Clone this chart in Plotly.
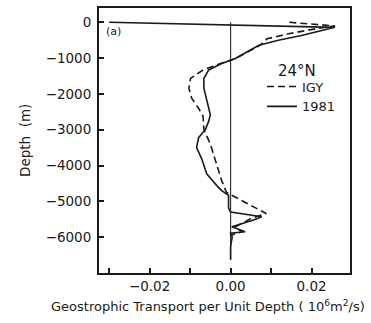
import plotly.graph_objects as go

# 1981 profile (depth m, transport 10^6 m^2/s per m)
depth_1981 = [0, -140, -370, -500, -640, -700, -740, -830, -1010, -1150, -1330, -1570,
              -1840, -2200, -2580, -2760, -2990, -3220, -3500, -3820, -4230, -4560,
              -4700, -4830, -4970, -5190, -5300, -5430, -5520, -5710, -5850, -5890,
              -6000, -6260, -6630]
val_1981 = [-0.0300, 0.0258, 0.0175, 0.0118, 0.0070, 0.0060, 0.0052, 0.0040, 0.0012, -0.0022,
            -0.0054, -0.0066, -0.0066, -0.0059, -0.0050, -0.0054, -0.0062, -0.0079, -0.0084,
            -0.0071, -0.0059, -0.0034, -0.0022, -0.0005, -0.0005, -0.0005, 0.0000, 0.0077,
            0.0057, 0.0003, 0.0036, 0.0000, 0.0004, 0.0000, 0.0000]

# IGY profile
depth_igy = [0, -100, -180, -320, -460, -640, -830, -1010, -1150, -1330, -1570, -1840,
             -2120, -2400, -2620, -2990, -3400, -3680, -4140, -4420, -4750, -4880, -5060,
             -5340, -5470, -5710, -5850, -5940]
val_igy = [0.0145, 0.0258, 0.0210, 0.0143, 0.0090, 0.0073, 0.0042, 0.0012, -0.0025, -0.0068,
           -0.0099, -0.0103, -0.0096, -0.0079, -0.0068, -0.0066, -0.0050, -0.0042, -0.0030,
           -0.0022, -0.0010, 0.0012, 0.0044, 0.0088, 0.0052, 0.0012, 0.0028, 0.0003]

# zero reference line
zero_x = [0.0, 0.0]
zero_depth = [0, -6630]

x_tickvals = [-0.03, -0.02, -0.01, 0.0, 0.01, 0.02]
x_ticktext = ["", "\u22120.02", "", "0.00", "", "0.02"]
y_tickvals = [0, -1000, -2000, -3000, -4000, -5000, -6000]
y_ticktext = ["0", "\u22121000", "\u22122000", "\u22123000", "\u22124000", "\u22125000", "\u22126000"]

FONT = "DejaVu Sans"
INK = "#1a1a1a"

W, H = 371, 323
ML, MR, MT, MB = 99, 21, 6, 50
PW, PH = W - ML - MR, H - MT - MB


def px_x(p):
    return (p - ML) / PW


def px_y(p):
    return 1 - (p - MT) / PH


fig = go.Figure()
fig.add_trace(go.Scatter(x=zero_x, y=zero_depth, mode="lines",
                         line=dict(color="#333333", width=1.2), showlegend=False,
                         hoverinfo="skip"))
fig.add_trace(go.Scatter(x=val_igy, y=depth_igy, mode="lines", name="IGY",
                         line=dict(color=INK, width=1.6, dash="7px,4px")))
fig.add_trace(go.Scatter(x=val_1981, y=depth_1981, mode="lines", name="1981",
                         line=dict(color=INK, width=1.6)))

fig.update_layout(
    width=W, height=H,
    margin=dict(l=ML, r=MR, t=MT, b=MB),
    paper_bgcolor="white", plot_bgcolor="white",
    font=dict(family=FONT, color=INK, size=13),
    xaxis=dict(range=[-0.0325, 0.0295], tickvals=x_tickvals, ticktext=x_ticktext,
               ticks="inside", ticklen=5, tickwidth=1.5, tickcolor=INK,
               showline=True, linecolor=INK, linewidth=2, mirror=True,
               showgrid=False, zeroline=False, tickfont=dict(size=13.5)),
    yaxis=dict(range=[-7000, 400], tickvals=y_tickvals, ticktext=y_ticktext,
               ticks="inside", ticklen=5, tickwidth=1.5, tickcolor=INK,
               showline=True, linecolor=INK, linewidth=2, mirror=True,
               showgrid=False, zeroline=False, tickfont=dict(size=13.5),
               ticklabelstandoff=3),
    legend=dict(x=px_x(262), y=px_y(70), xanchor="left", yanchor="top",
                bgcolor="rgba(0,0,0,0)", font=dict(size=13),
                tracegroupgap=0, itemwidth=30),
    annotations=[
        dict(text="24°N", x=px_x(297), y=px_y(69), xref="paper", yref="paper",
             xanchor="center", yanchor="middle", showarrow=False,
             font=dict(size=15, family=FONT)),
        dict(text="(a)", x=px_x(104), y=px_y(30), xref="paper", yref="paper",
             xanchor="left", yanchor="middle", showarrow=False,
             font=dict(size=11, family=FONT)),
        dict(text="Geostrophic Transport per Unit Depth ( 10<sup>6</sup>m<sup>2</sup>/s)",
             x=px_x(208), y=px_y(306), xref="paper", yref="paper",
             xanchor="center", yanchor="middle", showarrow=False,
             font=dict(size=13, family=FONT)),
        dict(text="Depth  (m)", x=px_x(25), y=px_y(140), xref="paper", yref="paper",
             xanchor="center", yanchor="middle", showarrow=False, textangle=-90,
             font=dict(size=13.5, family=FONT)),
    ],
)

fig.write_html("out.html")
